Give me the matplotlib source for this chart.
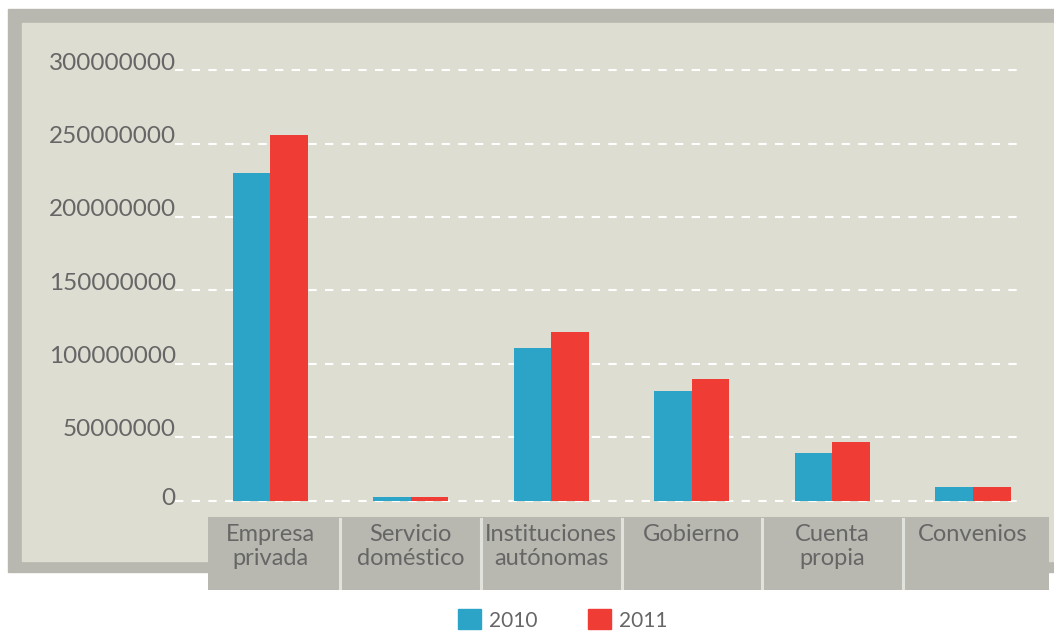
import matplotlib.pyplot as plt
from matplotlib.patches import Rectangle, Patch
from matplotlib.transforms import blended_transform_factory

# datos
categorias = ["Empresa\nprivada", "Servicio\ndoméstico", "Instituciones\nautónomas",
              "Gobierno", "Cuenta\npropia", "Convenios"]
valores_2010 = [230e6, 9.3e6, 110.7e6, 81.4e6, 39.1e6, 16e6]
valores_2011 = [256e6, 9.3e6, 121.6e6, 89.5e6, 46.6e6, 16e6]
series = ["2010", "2011"]
ticks = [50e6, 100e6, 150e6, 200e6, 250e6, 300e6]
tick_labels = ["50000000", "100000000", "150000000", "200000000", "250000000", "300000000"]

AZUL = "#2ca4c8"
ROJO = "#ef3d36"
FONDO = "#ddddd2"
MARCO = "#b8b8b0"
TEXTO = "#666666"

W, H = 1054, 631
plt.rcParams['font.family'] = ['Lato', 'DejaVu Sans']

fig = plt.figure(figsize=(W / 100, H / 100), dpi=100)
fig.patch.set_facecolor("white")

# marco gris y panel
fig.patches.append(Rectangle((8 / W, 1 - 572 / H), 1.0, (572 - 9) / H,
                             transform=fig.transFigure, color=MARCO, zorder=-10))
fig.patches.append(Rectangle((22 / W, 1 - 561 / H), 1.0, (561 - 23) / H,
                             transform=fig.transFigure, color=FONDO, zorder=-9))

ax = fig.add_axes([175 / W, 1 - 501 / H, (1017 - 175) / W, (501 - 60) / H])
ax.set_facecolor("none")
for s in ax.spines.values():
    s.set_visible(False)
ax.set_xticks([])
ax.set_yticks([])

ymin = 6.36e6
ax.set_ylim(ymin, 307.05e6)
ax.set_xlim(-0.676, 5.313)

x = list(range(len(categorias)))
w = 0.267

# lineas de guia
ytr = blended_transform_factory(ax.transAxes, ax.transData)
for t, lab in zip(ticks, tick_labels):
    ax.axhline(t, color="white", lw=1.5, ls=(0, (4, 4)), zorder=1)
    ax.text(0.001, t + 0.5e6, lab, transform=ytr,
            ha="right", va="baseline", fontsize=17.5, color=TEXTO)
ax.axhline(ymin, color="white", lw=1.5, ls=(0, (4, 4)), zorder=1, clip_on=False)
ax.text(0.001, ymin + 2e6, "0", transform=ytr,
        ha="right", va="center", fontsize=17.5, color=TEXTO)

ax.bar([i - w / 2 for i in x], valores_2010, w, color=AZUL, zorder=2)
ax.bar([i + w / 2 for i in x], valores_2011, w, color=ROJO, zorder=2)

# cajas de categorias debajo del grafico
tr = blended_transform_factory(ax.transData, fig.transFigure)
bordes = [-0.44] + [i + 0.5 for i in x[:-1]] + [5.54]
for i in x:
    ax.add_patch(Rectangle((bordes[i], 1 - 590 / H), bordes[i + 1] - bordes[i], (590 - 517) / H,
                           transform=tr, facecolor=MARCO, edgecolor="none", clip_on=False, zorder=3))
for b in bordes[1:-1]:
    ax.plot([b, b], [1 - 588 / H, 1 - 519 / H], transform=tr, color="#e2e2dc", lw=2.2,
            clip_on=False, zorder=4)
for i, lab in enumerate(categorias):
    ax.text(i, 1 - 524 / H, lab, transform=tr, ha="center", va="top", fontsize=17,
            color=TEXTO, linespacing=1.2, zorder=5)

handles = [Patch(color=AZUL), Patch(color=ROJO)]
fig.legend(handles, series, loc="center", bbox_to_anchor=(563 / W, 1 - 620 / H), ncol=2,
           frameon=False, fontsize=15, handlelength=1.1, handleheight=1.1,
           handletextpad=0.4, columnspacing=2.4, borderpad=0, labelcolor=TEXTO)

fig.savefig("out.png", dpi=100, facecolor="white")
